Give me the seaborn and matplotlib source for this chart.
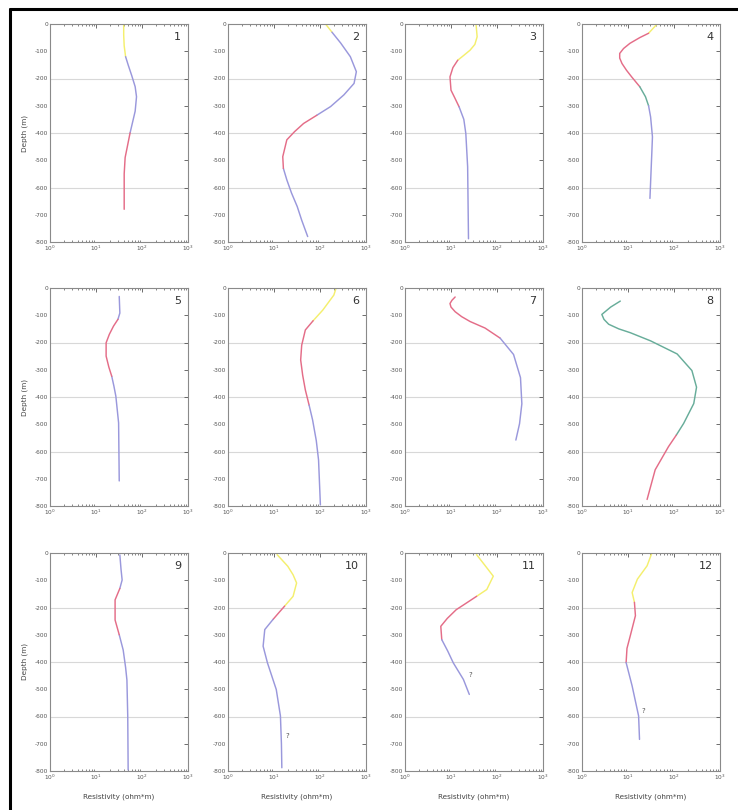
import numpy as np
import pandas as pd
import matplotlib
matplotlib.use("Agg")
import matplotlib.pyplot as plt
import seaborn as sns
from matplotlib.lines import Line2D
from matplotlib.ticker import LogLocator

# Resistivity soundings: depth (m), resistivity (ohm*m), and unit class per point
# (class applies to the segment starting at that point)
depth_1 = [0, 40, 80, 120, 150, 190, 230, 267, 320, 400, 450, 490, 550, 600, 680]
res_1 = [40, 40, 41, 44, 50, 60, 71, 76, 71, 55, 48, 43, 41, 41, 41]
cls_1 = ["Y", "Y", "Y", "B", "B", "B", "B", "B", "B", "R", "R", "R", "R", "R", "R"]

depth_2 = [0, 30, 70, 120, 175, 218, 260, 303, 335, 365, 395, 425, 487, 530, 572, 620, 670, 720, 780]
res_2 = [132, 182, 282, 457, 617, 550, 331, 170, 85, 44, 28, 19, 15.5, 16, 19, 24, 32, 40, 54]
cls_2 = ["Y", "B", "B", "B", "B", "B", "B", "B", "R", "R", "R", "R", "R", "B", "B", "B", "B", "B", "B"]

depth_3 = [0, 47, 75, 96, 115, 133, 160, 194, 243, 270, 304, 350, 402, 524, 788]
res_3 = [35, 37, 33, 26, 19, 14, 11, 9.5, 10, 12, 15, 19, 21, 23, 24]
cls_3 = ["Y", "Y", "Y", "Y", "Y", "R", "R", "R", "R", "R", "B", "B", "B", "B", "B"]

depth_4 = [0, 34, 50, 71, 90, 108, 125, 145, 170, 194, 230, 267, 300, 341, 414, 470, 524, 640]
res_4 = [43, 28, 18, 11, 8, 6.6, 6.6, 7.4, 9.3, 12, 18, 24, 28, 31, 34, 33, 32, 30]
cls_4 = ["Y", "R", "R", "R", "R", "R", "R", "R", "R", "R", "G", "G", "B", "B", "B", "B", "B", "B"]

depth_5 = [31, 92, 115, 140, 170, 201, 250, 290, 324, 360, 397, 495, 708]
res_5 = [32, 33, 30, 24, 19.5, 16.6, 16.6, 19, 22, 24.5, 27, 31, 32]
cls_5 = ["B", "B", "R", "R", "R", "R", "R", "R", "B", "B", "B", "B", "B"]

depth_6 = [0, 26, 81, 120, 154, 210, 264, 320, 374, 430, 484, 560, 631, 796]
res_6 = [224, 200, 115, 71, 48, 40, 38, 42, 48, 58, 69, 83, 93, 102]
cls_6 = ["Y", "Y", "Y", "R", "R", "R", "R", "R", "R", "B", "B", "B", "B", "B"]

depth_7 = [33, 45, 57, 70, 87, 105, 123, 147, 184, 244, 329, 425, 498, 558]
res_7 = [12.3, 10.5, 9.5, 10, 12.3, 17, 26, 55, 117, 229, 324, 347, 309, 257]
cls_7 = ["R", "R", "R", "R", "R", "R", "R", "R", "B", "B", "B", "B", "B", "B"]

depth_8 = [48, 70, 97, 115, 133, 150, 164, 194, 242, 303, 364, 424, 497, 540, 582, 667, 776]
res_8 = [6.8, 4.2, 2.7, 3.0, 3.8, 6.3, 11.2, 31, 117, 245, 309, 269, 162, 112, 76, 39, 26]
cls_8 = ["G", "G", "G", "G", "G", "G", "G", "G", "G", "G", "G", "G", "G", "R", "R", "R", "R"]

depth_9 = [7, 60, 99, 130, 172, 246, 300, 356, 420, 466, 600, 796]
res_9 = [33, 35, 37, 33, 26, 26, 32, 39, 44, 47, 49, 50]
cls_9 = ["B", "B", "B", "R", "R", "R", "B", "B", "B", "B", "B", "B"]

depth_10 = [6, 49, 80, 110, 159, 195, 220, 244, 281, 342, 403, 501, 598, 700, 788]
res_10 = [11.7, 20, 26, 31, 26, 17, 12.6, 9.5, 6.3, 5.8, 7.2, 11.2, 13.8, 14.5, 14.8]
cls_10 = ["Y", "Y", "Y", "Y", "Y", "R", "R", "B", "B", "B", "B", "B", "B", "B", "B"]

depth_11 = [6, 37, 85, 134, 159, 185, 208, 240, 269, 318, 360, 403, 464, 519]
res_11 = [36, 50, 83, 60, 36, 21, 13, 8.3, 6, 6.3, 8.5, 11.2, 18.6, 25]
cls_11 = ["Y", "Y", "Y", "Y", "R", "R", "R", "R", "R", "B", "B", "B", "B", "B"]

depth_12 = [0, 47, 96, 145, 181, 230, 304, 350, 402, 488, 598, 684]
res_12 = [33, 26, 16, 12.3, 13.8, 14.5, 11.2, 9.5, 9.1, 12.3, 17, 17.8]
cls_12 = ["Y", "Y", "Y", "Y", "R", "R", "R", "R", "B", "B", "B", "B"]

# Uncertain-interpretation markers: panel -> (resistivity, depth)
query_marks = {10: (20, 672), 11: (26, 446), 12: (22, 580)}

panel_labels = [str(i) for i in range(1, 13)]
depth_ticks = [0, -100, -200, -300, -400, -500, -600, -700, -800]
x_label = "Resistivity (ohm*m)"
y_label = "Depth (m)"

soundings = [
    (depth_1, res_1, cls_1), (depth_2, res_2, cls_2), (depth_3, res_3, cls_3),
    (depth_4, res_4, cls_4), (depth_5, res_5, cls_5), (depth_6, res_6, cls_6),
    (depth_7, res_7, cls_7), (depth_8, res_8, cls_8), (depth_9, res_9, cls_9),
    (depth_10, res_10, cls_10), (depth_11, res_11, cls_11), (depth_12, res_12, cls_12),
]

palette = {"Y": "#f4ef6e", "R": "#e46d88", "B": "#9a98dc", "G": "#68ad9a"}


def segment_frame(depth, res, cls):
    """Split a sounding into contiguous class runs sharing their end points."""
    rows = []
    seg = 0
    for i in range(len(depth) - 1):
        if i > 0 and cls[i] != cls[i - 1]:
            seg += 1
        rows.append((seg, cls[i], res[i], -depth[i], 2 * i))
        rows.append((seg, cls[i], res[i + 1], -depth[i + 1], 2 * i + 1))
    return pd.DataFrame(rows, columns=["seg", "unit", "res", "z", "order"])


sns.set_theme(style="white")
plt.rcParams["font.family"] = ["DejaVu Sans"]

fig = plt.figure(figsize=(7.38, 8.10), dpi=100)
W, H = 738.0, 810.0
col_left = [50, 228, 405, 582]
row_top = [24, 288, 553]
aw, ah = 138, 218

grid_col = "#d8d8d8"
spine_col = "#8a8a8a"
tick_col = "#555555"

for k, (depth, res, cls) in enumerate(soundings):
    r, c = divmod(k, 4)
    ax = fig.add_axes([col_left[c] / W, 1 - (row_top[r] + ah) / H, aw / W, ah / H])
    df = segment_frame(depth, res, cls)
    sns.lineplot(data=df, x="res", y="z", hue="unit", units="seg", estimator=None,
                 sort=False, palette=palette, legend=False, linewidth=1.05, ax=ax)
    ax.set_xscale("log")
    ax.set_xlim(1, 1000)
    ax.set_ylim(-800, 0)
    ax.set_yticks(depth_ticks)
    ax.set_yticklabels([str(t) for t in depth_ticks])
    ax.xaxis.set_major_locator(LogLocator(base=10, numticks=10))
    ax.xaxis.set_minor_locator(LogLocator(base=10, subs=np.arange(2, 10), numticks=20))
    for yv in (-200, -400, -600):
        ax.axhline(yv, color=grid_col, lw=0.8, zorder=0)
    ax.tick_params(axis="both", which="major", direction="in", length=3, width=0.6,
                   colors=tick_col, labelsize=4.2, top=True, right=True, pad=1.5)
    ax.tick_params(axis="x", which="minor", direction="in", length=1.6, width=0.5,
                   colors=tick_col, top=True, bottom=True)
    for s in ax.spines.values():
        s.set_color(spine_col)
        s.set_linewidth(0.8)
    ax.set_xlabel(x_label if r == 2 else "", fontsize=5.2, color="#444444", labelpad=8)
    ax.set_ylabel(y_label if c == 0 else "", fontsize=5.2, color="#444444", labelpad=5)
    ax.text(0.95, 0.965, panel_labels[k], transform=ax.transAxes, ha="right", va="top",
            fontsize=8, color="#333333")
    if (k + 1) in query_marks:
        qx, qd = query_marks[k + 1]
        ax.text(qx, -qd, "?", fontsize=5, color="#555555", ha="center", va="center")

# outer frame along the left and top of the sheet
fig.add_artist(Line2D([10 / W, 10 / W], [0, 1 - 9 / H], transform=fig.transFigure,
                      color="black", lw=2.2))
fig.add_artist(Line2D([10 / W, 1], [1 - 9 / H, 1 - 9 / H], transform=fig.transFigure,
                      color="black", lw=2.2))

fig.savefig("out.png", dpi=100)
